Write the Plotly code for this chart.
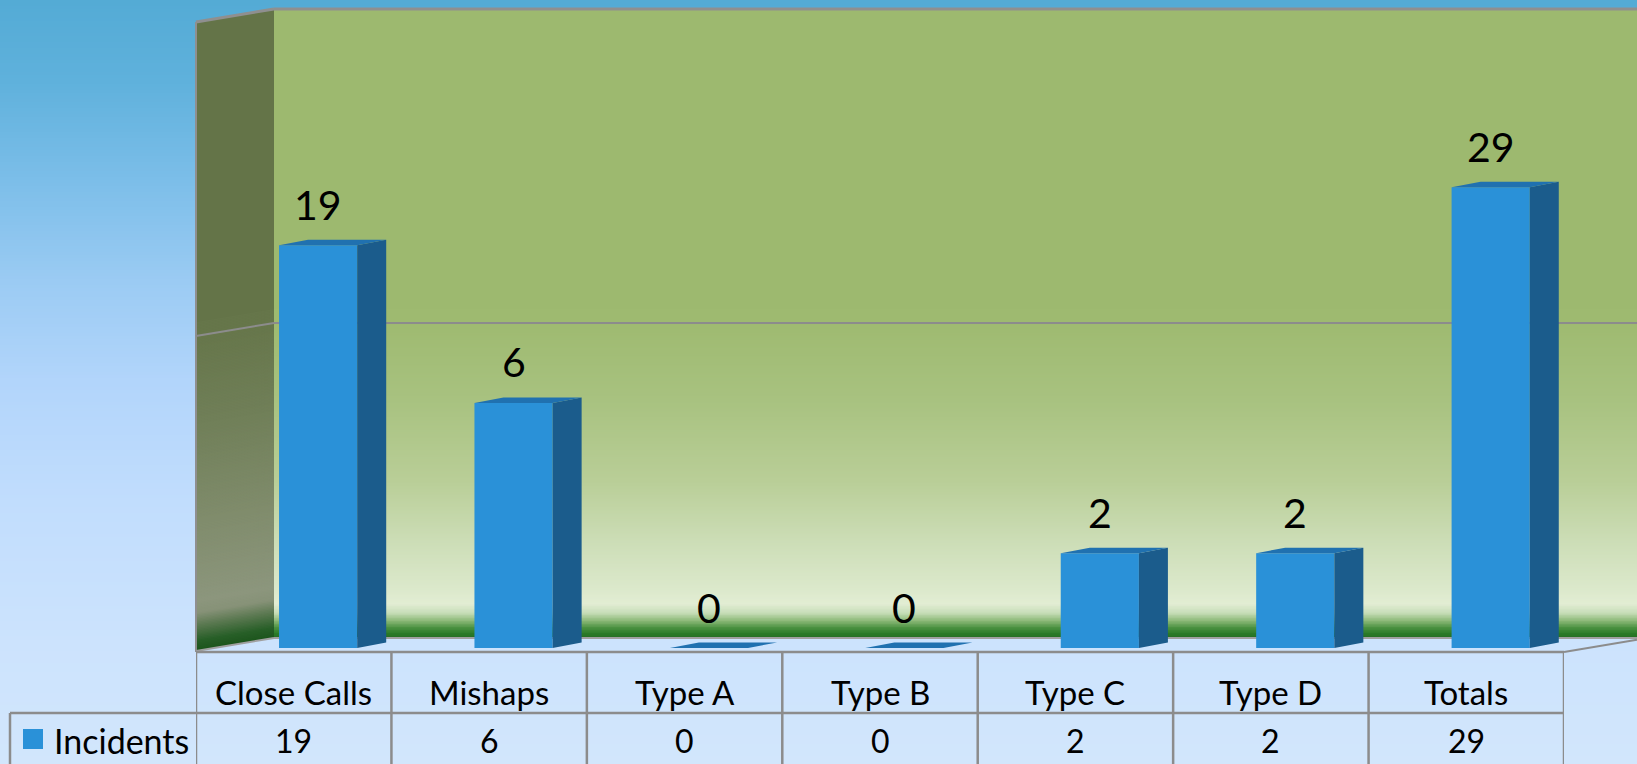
import math
import plotly.graph_objects as go

# ---------------- data ----------------
categories = ["Close Calls", "Mishaps", "Type A", "Type B", "Type C", "Type D", "Totals"]
incidents = [19, 6, 0, 0, 2, 2, 29]
series_name = "Incidents"
grid_values = [10]

# ---------------- geometry / style ----------------
W, H = 1637, 764
FONT = "Lato"

def px(x):
    return x / W

def py(y):
    return 1 - y / H

N = len(categories)
BACK_L, BACK_TOP, BACK_FLOOR = 274, 9, 637
WALL_L, WALL_TOP = 196, 22
SLANT = WALL_TOP - BACK_TOP
FLOOR_FRONT_Y = 652
TABLE_R = 1564
TABLE_L = 10
ROW_SEP = 713
TABLE_BOTTOM = H
SLOT = (TABLE_R - WALL_L) / N
BAR_X0 = 220.4
BAR_BOT, BAR_TOP = 648, 18

BAR_W = 0.4
DEPTH_X = 29 / SLOT
DEPTH_LOG = 5.5 / ((BAR_BOT - BAR_TOP) / 2)

FRONT = "#2a91d8"
SIDE = "#1b5c8c"
TOP = "#2071b0"
EDGE = "#8c8c8c"


def rgb(c):
    return "rgb(%d,%d,%d)" % tuple(int(round(v)) for v in c)


def interp(stops, y):
    if y <= stops[0][0]:
        return stops[0][1]
    for (y0, c0), (y1, c1) in zip(stops, stops[1:]):
        if y0 <= y <= y1:
            t = (y - y0) / (y1 - y0) if y1 > y0 else 0
            return tuple(a + (b - a) * t for a, b in zip(c0, c1))
    return stops[-1][1]


bg_stops = [(0, (84, 171, 213)), (80, (95, 177, 220)), (180, (124, 190, 233)),
            (280, (155, 203, 243)), (380, (178, 213, 251)), (500, (193, 221, 253)),
            (640, (204, 227, 253)), (764, (210, 230, 252))]
back_stops = [(9, (157, 185, 111)), (320, (158, 186, 112)), (400, (168, 194, 128)),
              (480, (185, 206, 151)), (540, (204, 221, 182)), (590, (220, 233, 204)),
              (603, (226, 237, 211)), (612, (200, 222, 185)), (620, (140, 185, 120)),
              (627, (75, 145, 65)), (633, (42, 122, 40)), (637, (38, 110, 36))]
wall_stops = [(22, (100, 116, 72)), (330, (102, 118, 74)), (420, (112, 127, 88)),
              (520, (128, 140, 108)), (600, (140, 150, 125)), (612, (135, 146, 120)),
              (625, (90, 120, 80)), (640, (40, 95, 40)), (650, (28, 85, 28))]

shapes = []

# background gradient (painter's bands)
y = 0
while y < H:
    shapes.append(dict(type="rect", xref="paper", yref="paper", layer="below",
                       x0=0, x1=1, y0=py(H), y1=py(y), line_width=0,
                       fillcolor=rgb(interp(bg_stops, y))))
    y += 3

# back wall gradient
y = BACK_TOP
while y < BACK_FLOOR:
    shapes.append(dict(type="rect", xref="paper", yref="paper", layer="below",
                       x0=px(BACK_L), x1=1, y0=py(BACK_FLOOR), y1=py(y), line_width=0,
                       fillcolor=rgb(interp(back_stops, y))))
    y = y + (300 if y < 300 else 1.5)

# left wall gradient (parallelogram bands following the slant)
WALL_BOT = BACK_FLOOR + SLANT
s = WALL_TOP
while s < WALL_BOT:
    path = "M %f,%f L %f,%f L %f,%f L %f,%f Z" % (
        px(WALL_L), py(s), px(BACK_L), py(s - SLANT),
        px(BACK_L), py(WALL_BOT - SLANT), px(WALL_L), py(WALL_BOT))
    shapes.append(dict(type="path", xref="paper", yref="paper", layer="below",
                       path=path, line_width=0, fillcolor=rgb(interp(wall_stops, s))))
    s = s + (300 if s < 300 else 1.5)


def pline(x0, y0, x1, y1, color=EDGE, width=2, layer="below"):
    shapes.append(dict(type="line", xref="paper", yref="paper", layer=layer,
                       x0=px(x0), y0=py(y0), x1=px(x1), y1=py(y1),
                       line=dict(color=color, width=width)))


# wall edges
pline(BACK_L, BACK_TOP, W, BACK_TOP, "#8f8f8f", 3)
pline(WALL_L, WALL_TOP, BACK_L, BACK_TOP, "#8f8f8f", 3)
pline(WALL_L, WALL_TOP, WALL_L, FLOOR_FRONT_Y, "#8f8f8f", 2)
pline(BACK_L, BACK_FLOOR + 1, W, BACK_FLOOR + 1, "#a0a0a0", 2)
pline(WALL_L, WALL_BOT + 1, BACK_L, BACK_FLOOR + 1, "#a0a0a0", 2)
# grid line continued on side wall
for g in grid_values:
    gy = BACK_FLOOR - (BACK_FLOOR - BACK_TOP) * math.log10(g) / 2
    pline(WALL_L, gy + SLANT, BACK_L, gy, EDGE, 2)
# floor right edge
pline(TABLE_R, FLOOR_FRONT_Y, W, FLOOR_FRONT_Y - SLANT * (W - TABLE_R) / (BACK_L - WALL_L), EDGE, 2)

# table grid
pline(WALL_L, FLOOR_FRONT_Y, TABLE_R, FLOOR_FRONT_Y, EDGE, 2.5)
pline(TABLE_L, ROW_SEP, TABLE_R, ROW_SEP, EDGE, 2.5)
pline(TABLE_L, ROW_SEP, TABLE_L, TABLE_BOTTOM, EDGE, 2.5)
for k in range(N + 1):
    shapes.append(dict(type="line", xref="x3", yref="paper", layer="above",
                       x0=k - 0.5, x1=k - 0.5, y0=py(FLOOR_FRONT_Y), y1=py(TABLE_BOTTOM),
                       line=dict(color=EDGE, width=2.5)))
# legend key
shapes.append(dict(type="rect", xref="paper", yref="paper", layer="above",
                   x0=px(23), x1=px(43), y0=py(749), y1=py(729),
                   line_width=0, fillcolor=FRONT))

# ---------------- traces ----------------
traces = []
# back wall subplot (carries the log grid line)
traces.append(go.Scatter(x=[0], y=[10], xaxis="x", yaxis="y", mode="markers",
                         marker=dict(opacity=0), hoverinfo="skip", showlegend=False))

idx = list(range(N))
traces.append(go.Bar(x=idx, y=[v if v > 0 else None for v in incidents], width=BAR_W,
                     marker=dict(color=FRONT, line=dict(width=0)), xaxis="x2", yaxis="y2",
                     name=series_name, showlegend=False, hoverinfo="skip"))

k = 10 ** DEPTH_LOG
sx, sy, tx, ty = [], [], [], []
for i, v in zip(idx, incidents):
    top = max(v, 1)
    r = i + BAR_W / 2
    l = i - BAR_W / 2
    if v > 1:
        sx += [r, r, r + DEPTH_X, r + DEPTH_X, r, None]
        sy += [1, top, top * k, k, 1, None]
    tx += [l, r, r + DEPTH_X, l + DEPTH_X, l, None]
    ty += [top, top, top * k, top * k, top, None]
traces.append(go.Scatter(x=sx, y=sy, xaxis="x2", yaxis="y2", mode="lines", fill="toself",
                         fillcolor=SIDE, line=dict(width=0, color=SIDE), hoverinfo="skip",
                         showlegend=False))
traces.append(go.Scatter(x=tx, y=ty, xaxis="x2", yaxis="y2", mode="lines", fill="toself",
                         fillcolor=TOP, line=dict(width=0, color=TOP), hoverinfo="skip",
                         showlegend=False))
traces.append(go.Scatter(x=[0], y=[0.5], xaxis="x3", yaxis="y3", mode="markers",
                         marker=dict(opacity=0), hoverinfo="skip", showlegend=False))

# ---------------- annotations ----------------
ann = []
for i, v in zip(idx, incidents):
    ann.append(dict(xref="x2", yref="y2", x=i, y=math.log10(max(v, 1)), text=str(v),
                    showarrow=False, yshift=41, yanchor="middle", xanchor="center",
                    font=dict(family=FONT, size=41, color="black")))
for i, (c, v) in enumerate(zip(categories, incidents)):
    ann.append(dict(xref="x3", yref="paper", x=i, y=py(692), text=c, showarrow=False,
                    yanchor="middle", xanchor="center",
                    font=dict(family=FONT, size=33, color="black")))
    ann.append(dict(xref="x3", yref="paper", x=i, y=py(740), text=str(v), showarrow=False,
                    yanchor="middle", xanchor="center",
                    font=dict(family=FONT, size=32, color="black")))
ann.append(dict(xref="paper", yref="paper", x=px(52), y=py(740), text=series_name,
                showarrow=False, yanchor="middle", xanchor="left",
                font=dict(family=FONT, size=34, color="black")))

fig = go.Figure(traces)
fig.update_layout(
    width=W, height=H, autosize=False,
    margin=dict(l=0, r=0, t=0, b=0, pad=0),
    paper_bgcolor=rgb(bg_stops[-1][1]), plot_bgcolor="rgba(0,0,0,0)",
    showlegend=False, shapes=shapes, annotations=ann,
    xaxis=dict(domain=[px(BACK_L), 1], range=[-0.5, -0.5 + (W - BACK_L) / SLOT],
               visible=False, fixedrange=True),
    yaxis=dict(type="log", domain=[py(BACK_FLOOR), py(BACK_TOP)], range=[0, 2],
               showgrid=True, gridcolor=EDGE, gridwidth=2, tickvals=grid_values,
               showticklabels=False, ticks="", zeroline=False, showline=False,
               fixedrange=True),
    xaxis2=dict(domain=[px(BAR_X0), px(BAR_X0 + N * SLOT)], range=[-0.5, N - 0.5],
                anchor="y2", visible=False, fixedrange=True),
    yaxis2=dict(type="log", domain=[py(BAR_BOT), py(BAR_TOP)], range=[0, 2],
                anchor="x2", visible=False, fixedrange=True),
    xaxis3=dict(domain=[px(WALL_L), px(TABLE_R)], range=[-0.5, N - 0.5],
                anchor="y3", visible=False, fixedrange=True),
    yaxis3=dict(domain=[0, py(FLOOR_FRONT_Y)], range=[0, 1], anchor="x3",
                visible=False, fixedrange=True),
)
fig.write_html("out.html", config=dict(displayModeBar=False),
               post_script="document.body.style.margin='0';document.body.style.overflow='hidden';")
